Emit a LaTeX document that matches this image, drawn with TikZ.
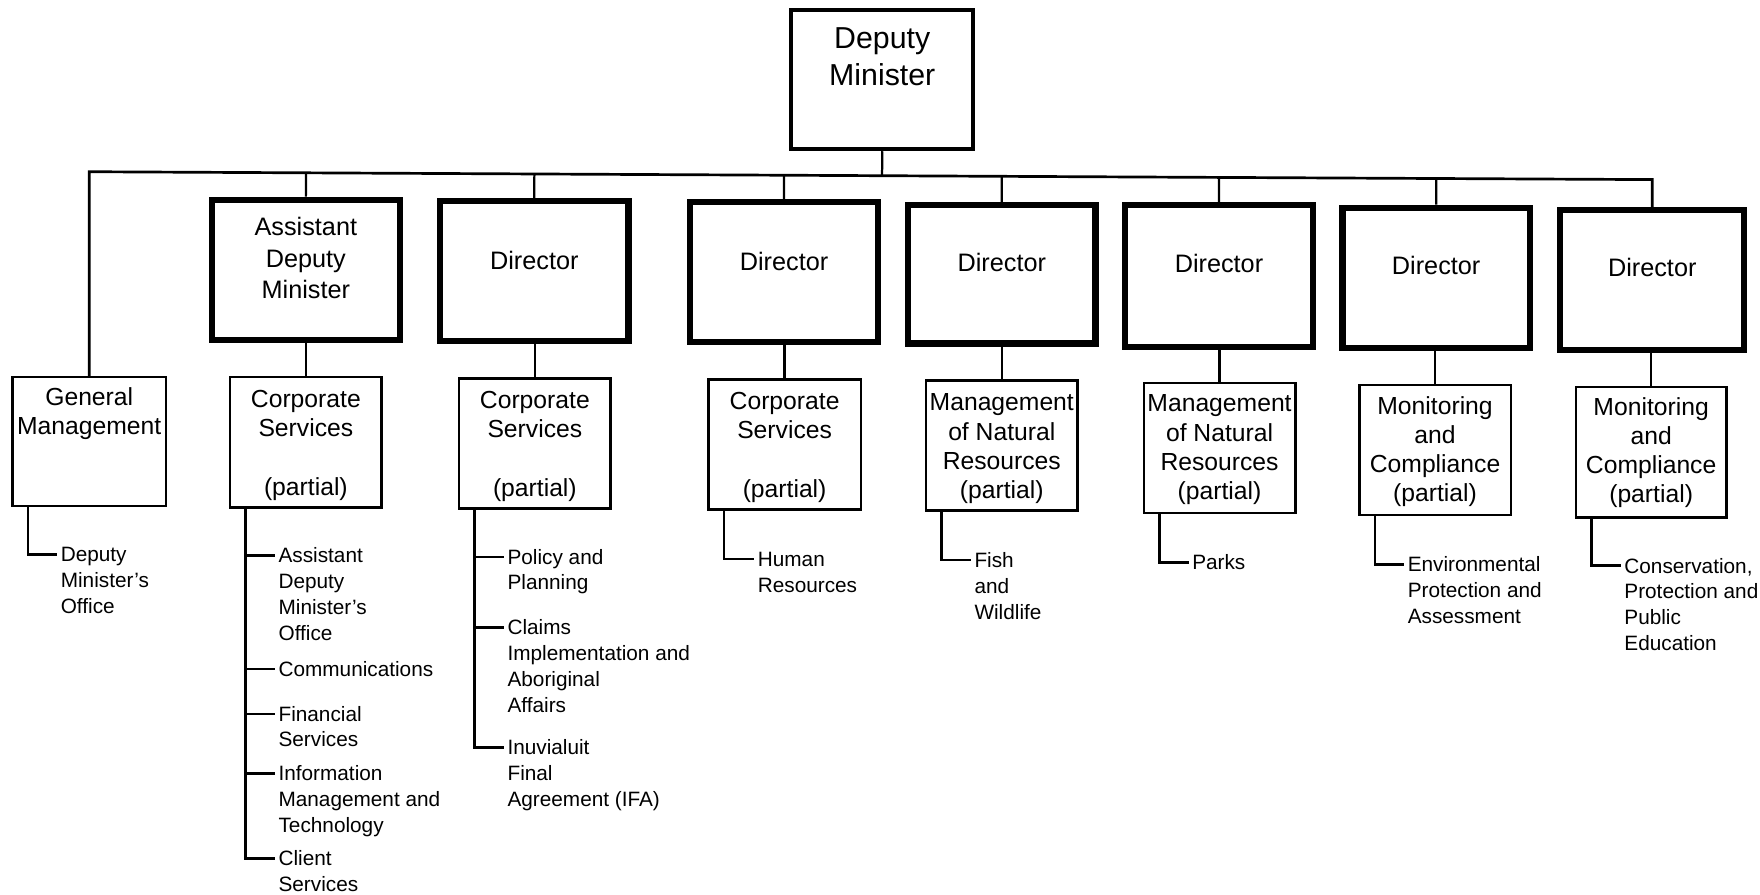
\documentclass[tikz,border=0pt]{standalone}
\usepackage{fontspec}
\setmainfont{Liberation Sans}
\usetikzlibrary{fit,calc}
\begin{document}
\begin{tikzpicture}[x=1pt,y=-1pt,
  dmbox/.style={draw,line width=3.5pt,inner sep=0pt},
  dirbox/.style={draw,line width=5.5pt,inner sep=0pt},
  midbox/.style={draw,line width=2.2pt,inner sep=0pt},
  conn/.style={line width=2pt},
  busline/.style={line width=2.4pt,line join=miter},
  leafline/.style={line width=2.2pt},
  dmtext/.style={font=\fontsize{27}{33}\selectfont,align=center,inner sep=0pt,anchor=base},
  dirtext/.style={font=\fontsize{22.5}{28}\selectfont,align=center,inner sep=0pt,anchor=base},
  midtext/.style={font=\fontsize{22}{26}\selectfont,align=center,inner sep=0pt,anchor=base},
  leaftext/.style={font=\fontsize{18.5}{23}\selectfont,align=left,inner sep=0pt,anchor=base west},
]
\fill[white] (0,0) rectangle (1568,796.5);
\useasboundingbox (0,0) rectangle (1568,796.5);

% ---- top (text nodes are placed by the baseline of their last line)
\node[dmbox, fit={(705,9) (867,133)}] (dm) {};
\node[dmtext] (dmt) at (786,76) {Deputy\\Minister};

% ---- director level
\node[dirbox, fit={(189,178) (356,303)}] (adm) {};
\node[dirtext] (admt) at (272.5,266) {Assistant\\Deputy\\Minister};
\node[dirbox, fit={(392,179) (560,304)}] (d1) {};
\node[dirtext] (d1t) at (476,240) {Director};
\node[dirbox, fit={(615,180) (782,305)}] (d2) {};
\node[dirtext] (d2t) at (698.5,241) {Director};
\node[dirbox, fit={(809,183) (976,306)}] (d3) {};
\node[dirtext] (d3t) at (892.5,242) {Director};
\node[dirbox, fit={(1002,183) (1170,309)}] (d4) {};
\node[dirtext] (d4t) at (1086,243) {Director};
\node[dirbox, fit={(1196,185) (1363,310)}] (d5) {};
\node[dirtext] (d5t) at (1279.5,245) {Director};
\node[dirbox, fit={(1390,187) (1554,312)}] (d6) {};
\node[dirtext] (d6t) at (1472,246) {Director};

% ---- middle level
\node[midbox, fit={(11,336) (148,451)}] (gm) {};
\node[midtext] (gmt) at (79.5,387) {General\\Management};
\node[midbox, fit={(205,336) (340,452)}] (cs1) {};
\node[midtext] (cs1t) at (272.5,441) {Corporate\\Services\\\mbox{}\\(partial)};
\node[midbox, fit={(409,337) (544,453)}] (cs2) {};
\node[midtext] (cs2t) at (476.5,442) {Corporate\\Services\\\mbox{}\\(partial)};
\node[midbox, fit={(631,338) (767,454)}] (cs3) {};
\node[midtext] (cs3t) at (699,443) {Corporate\\Services\\\mbox{}\\(partial)};
\node[midbox, fit={(825,339) (960,455)}] (mn1) {};
\node[midtext] (mn1t) at (892.5,444) {Management\\of Natural\\Resources\\(partial)};
\node[midbox, fit={(1019,341) (1154,457)}] (mn2) {};
\node[midtext] (mn2t) at (1086.5,445) {Management\\of Natural\\Resources\\(partial)};
\node[midbox, fit={(1211,343) (1346,459)}] (mc1) {};
\node[midtext] (mc1t) at (1278.5,447) {Monitoring\\and\\Compliance\\(partial)};
\node[midbox, fit={(1404,345) (1538,461)}] (mc2) {};
\node[midtext] (mc2t) at (1471,448) {Monitoring\\and\\Compliance\\(partial)};

% ---- bus
\coordinate (busL) at (79.5,153);
\coordinate (busR) at (1472,160);
\draw[busline] (gm.north) -- (busL) -- (busR) -- (d6.north);
\draw[conn] (dm.south) -- ($(busL)!(dm.south)!(busR)$);
\foreach \b in {adm,d1,d2,d3,d4,d5}
  \draw[conn] (\b.north) -- ($(busL)!(\b.north)!(busR)$);

% ---- director to middle
\foreach \u/\l in {adm/cs1,d1/cs2,d2/cs3,d3/mn1,d4/mn2,d5/mc1,d6/mc2}
  \draw[conn] (\l.north) -- (\l.north |- \u.south);

% ---- leaves (placed by the baseline of their last line)
\node[leaftext] (g1) at (54,546.5) {Deputy\\Minister's\\Office};

\node[leaftext] (c1a) at (248,570.5) {Assistant\\Deputy\\Minister's\\Office};
\node[leaftext] (c1b) at (248,602.5) {Communications};
\node[leaftext] (c1c) at (248,665.5) {Financial\\Services};
\node[leaftext] (c1d) at (248,741.5) {Information\\Management and\\Technology};
\node[leaftext] (c1e) at (248,794.5) {Client\\Services};

\node[leaftext] (c2a) at (452,525.5) {Policy and\\Planning};
\node[leaftext] (c2b) at (452,634.5) {Claims\\Implementation and\\Aboriginal\\Affairs};
\node[leaftext] (c2c) at (452,718.5) {Inuvialuit\\Final\\Agreement (IFA)};

\node[leaftext] (c3a) at (675,527.5) {Human\\Resources};
\node[leaftext] (m1a) at (868,551.5) {Fish\\and\\Wildlife};
\node[leaftext] (m2a) at (1062,507.5) {Parks};
\node[leaftext] (k1a) at (1254,555.5) {Environmental\\Protection and\\Assessment};
\node[leaftext] (k2a) at (1447,579.5) {Conservation,\\Protection and\\Public\\Education};

\foreach \m/\t/\o in {gm/g1/-52.5,cs1/c1a/-75.5,cs1/c1b/-6.5,cs1/c1c/-29.5,cs1/c1d/-52.5,cs1/c1e/-29.5,cs2/c2a/-29.5,cs2/c2b/-75.5,cs2/c2c/-52.5,cs3/c3a/-29.5,mn1/m1a/-52.5,mn2/m2a/-6.5,mc1/k1a/-52.5,mc2/k2a/-75.5}
  \draw[leafline] ($(\m.south west)+(15,0)$) |- ($(\t.base west)+(-3,\o)$);
\end{tikzpicture}
\end{document}
